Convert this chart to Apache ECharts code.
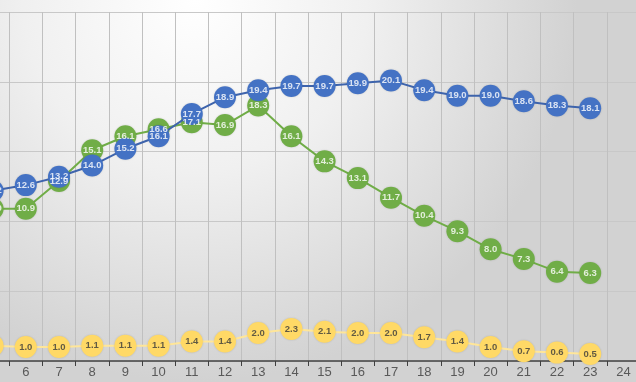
<!DOCTYPE html>
<html><head><meta charset="utf-8">
<script src="https://cdn.jsdelivr.net/npm/echarts@6/dist/echarts.min.js"></script>
<style>html,body{margin:0;padding:0;overflow:hidden;width:636px;height:382px;}
#c{width:664px;height:382px;position:absolute;left:-24px;top:0;}</style>
</head><body><div id="c"></div>
<script>
var categories = ['5','6','7','8','9','10','11','12','13','14','15','16','17','18','19','20','21','22','23','24'];
var blueValues = [12.2,12.6,13.2,14.0,15.2,16.1,17.7,18.9,19.4,19.7,19.7,19.9,20.1,19.4,19.0,19.0,18.6,18.3,18.1,null];
var greenValues = [10.9,10.9,12.9,15.1,16.1,16.6,17.1,16.9,18.3,16.1,14.3,13.1,11.7,10.4,9.3,8.0,7.3,6.4,6.3,null];
var yellowValues = [1.1,1.0,1.0,1.1,1.1,1.1,1.4,1.4,2.0,2.3,2.1,2.0,2.0,1.7,1.4,1.0,0.7,0.6,0.5,null];

var chart = echarts.init(document.getElementById('c'));
function fmt(p) { return p.value == null ? '' : Number(p.value).toFixed(1); }
function ser(name, data, fill, line, z) {
  return {
    name: name, type: 'line', data: data, z: z,
    symbol: 'circle', symbolSize: 22,
    lineStyle: { color: line, width: 2 },
    itemStyle: { color: fill, shadowColor: 'rgba(0,0,0,0.15)', shadowBlur: 2 },
    label: { show: false },
    emphasis: { disabled: true }, animation: false
  };
}
function lab(name, data, textColor) {
  return {
    name: name + '-labels', type: 'scatter', data: data, z: 10,
    symbolSize: 0, itemStyle: { color: 'transparent' },
    label: { show: true, position: 'inside', color: textColor, fontSize: 9.5, fontWeight: 'bold',
      fontFamily: 'Liberation Sans, Arial', formatter: fmt },
    emphasis: { disabled: true }, animation: false, silent: true
  };
}
chart.setOption({
  animation: false,
  backgroundColor: {
    type: 'radial', x: 0.33, y: 0.0, r: 1.0,
    colorStops: [{ offset: 0, color: '#ffffff' }, { offset: 0.45, color: '#f0f0f0' }, { offset: 1, color: '#d2d2d2' }]
  },
  grid: { left: 0, right: 0, top: 12, bottom: 21 },
  xAxis: {
    type: 'category', data: categories, boundaryGap: true,
    axisLine: { lineStyle: { color: '#404040', width: 1.5 } },
    axisTick: { show: true, length: 5, lineStyle: { color: '#404040' } },
    axisLabel: { color: '#595959', fontSize: 13, margin: 5, fontFamily: 'Liberation Sans, Arial' },
    splitLine: { show: true, lineStyle: { color: '#c0c0c0', width: 1 } }
  },
  yAxis: {
    type: 'value', min: 0, max: 25, interval: 5,
    axisLine: { show: false }, axisTick: { show: false }, axisLabel: { show: false },
    splitLine: { lineStyle: { color: '#c8c8c8', width: 1 } }
  },
  series: [
    ser('yellow', yellowValues, '#FFD966', '#FFE699', 2),
    ser('green', greenValues, '#70AD47', '#70AD47', 3),
    ser('blue', blueValues, '#4472C4', '#3E64AC', 4),
    lab('yellow', yellowValues, '#3a3a3a'),
    lab('green', greenValues, '#ffffff'),
    lab('blue', blueValues, '#ffffff')
  ]
});
</script></body></html>
